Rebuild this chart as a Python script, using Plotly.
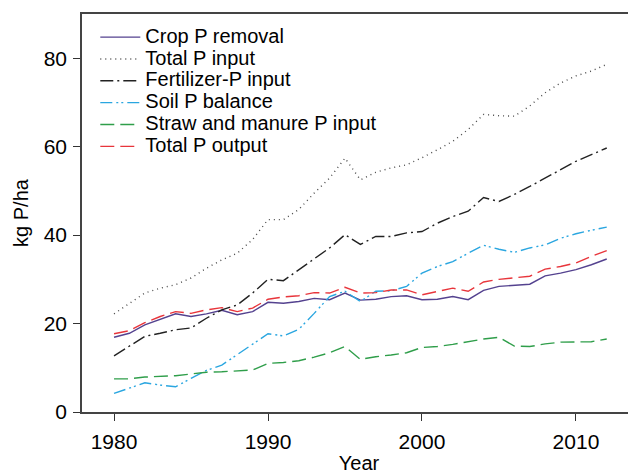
import plotly.graph_objects as go

years = list(range(1980, 2013))

crop_removal = [16.9, 17.8, 19.7, 21.0, 22.2, 21.6, 22.2, 23.0, 22.0, 22.7,
                24.8, 24.6, 25.0, 25.7, 25.4, 26.9, 25.3, 25.5, 26.1, 26.3,
                25.4, 25.5, 26.1, 25.4, 27.5, 28.4, 28.7, 28.9, 30.8, 31.4,
                32.2, 33.3, 34.6]
total_input = [22.2, 24.6, 26.9, 28.0, 28.8, 30.3, 32.5, 34.4, 35.9, 39.0,
               43.5, 43.5, 45.8, 49.5, 52.9, 57.4, 52.5, 54.2, 55.2, 55.9,
               57.5, 59.3, 61.2, 63.9, 67.3, 67.0, 66.9, 69.2, 72.2, 74.4,
               76.0, 77.1, 78.6]
fert_input = [12.7, 14.8, 17.1, 17.8, 18.6, 19.0, 21.2, 23.1, 24.2, 26.9,
              30.0, 29.7, 32.2, 34.8, 37.1, 40.1, 37.9, 39.7, 39.7, 40.5,
              40.8, 42.7, 44.2, 45.4, 48.5, 47.6, 49.2, 51.0, 52.9, 54.8,
              56.7, 58.2, 59.7]
soil_balance = [4.2, 5.4, 6.6, 6.1, 5.7, 7.6, 9.4, 10.6, 12.9, 15.2,
                17.7, 17.2, 18.7, 22.3, 26.1, 27.3, 25.0, 27.3, 27.4, 28.4,
                31.4, 32.9, 34.0, 35.9, 37.7, 36.8, 36.1, 37.1, 37.8, 39.3,
                40.3, 41.1, 41.8]
straw_manure = [7.5, 7.5, 7.9, 8.0, 8.2, 8.6, 9.0, 9.1, 9.3, 9.5,
                11.0, 11.2, 11.6, 12.4, 13.4, 14.8, 11.9, 12.5, 12.9, 13.4,
                14.6, 14.8, 15.3, 15.9, 16.5, 16.9, 14.9, 14.8, 15.4, 15.8,
                15.9, 15.9, 16.5]
total_output = [17.7, 18.4, 20.2, 21.6, 22.7, 22.3, 23.1, 23.6, 22.7, 23.5,
                25.5, 26.0, 26.3, 27.0, 26.9, 28.2, 26.9, 27.0, 27.6, 27.6,
                26.5, 27.3, 28.0, 27.3, 29.4, 30.0, 30.4, 30.7, 32.3, 32.9,
                33.7, 35.2, 36.5]

series_names = ["Crop P removal", "Total P input", "Fertilizer-P input",
                "Soil P balance", "Straw and manure P input", "Total P output"]
series_values = [crop_removal, total_input, fert_input, soil_balance,
                 straw_manure, total_output]
series_colors = ["#54428f", "#4a4a4a", "#222222", "#2aa6e0", "#2f9e4a", "#e8353b"]
series_dashes = ["solid", "1px,4px", "13px,4px,2px,4px", "12px,4px,2px,3px,2px,4px",
                 "14px,6px", "14px,6px"]

x_ticks = [1980, 1990, 2000, 2010]
y_ticks = [0, 20, 40, 60, 80]

FONT = "Liberation Sans, Arial, Helvetica, sans-serif"

fig = go.Figure()
for name, vals, col, dash in zip(series_names, series_values, series_colors, series_dashes):
    fig.add_trace(go.Scatter(
        x=years, y=vals, mode="lines",
        name='<span style="font-size:20px">' + name + '</span>',
        line=dict(color=col, width=1.4, dash=dash),
    ))

# page has an 8px body margin, so the figure is sized/offset to compensate
fig.update_layout(
    width=628, height=466,
    margin=dict(l=74, r=0, t=6, b=62),
    paper_bgcolor="white", plot_bgcolor="white",
    font=dict(family=FONT, size=21, color="black"),
    showlegend=True,
    legend=dict(
        x=0.024, y=0.982, xanchor="left", yanchor="top",
        bgcolor="rgba(0,0,0,0)", borderwidth=0,
        font=dict(family=FONT, size=14.5, color="black"),
        tracegroupgap=0, itemwidth=40,
    ),
    xaxis=dict(
        range=[1977.92, 2013.9],
        tickvals=x_ticks, ticktext=[str(v) for v in x_ticks],
        ticks="outside", ticklen=7, tickwidth=1.2, tickcolor="#333",
        ticklabelstandoff=3,
        showline=True, linecolor="#444", linewidth=1.5, mirror=True,
        showgrid=False, zeroline=False,
        tickfont=dict(size=21),
        title=dict(text="Year", font=dict(size=20), standoff=4),
    ),
    yaxis=dict(
        range=[0, 90],
        tickvals=y_ticks, ticktext=[str(v) for v in y_ticks],
        ticks="outside", ticklen=7, tickwidth=1.2, tickcolor="#333",
        ticklabelstandoff=2,
        showline=True, linecolor="#444", linewidth=1.5, mirror=False,
        showgrid=False, zeroline=False,
        tickfont=dict(size=21),
        title=dict(text="kg P/ha", font=dict(size=20), standoff=10),
    ),
)

fig.write_html("out.html")
